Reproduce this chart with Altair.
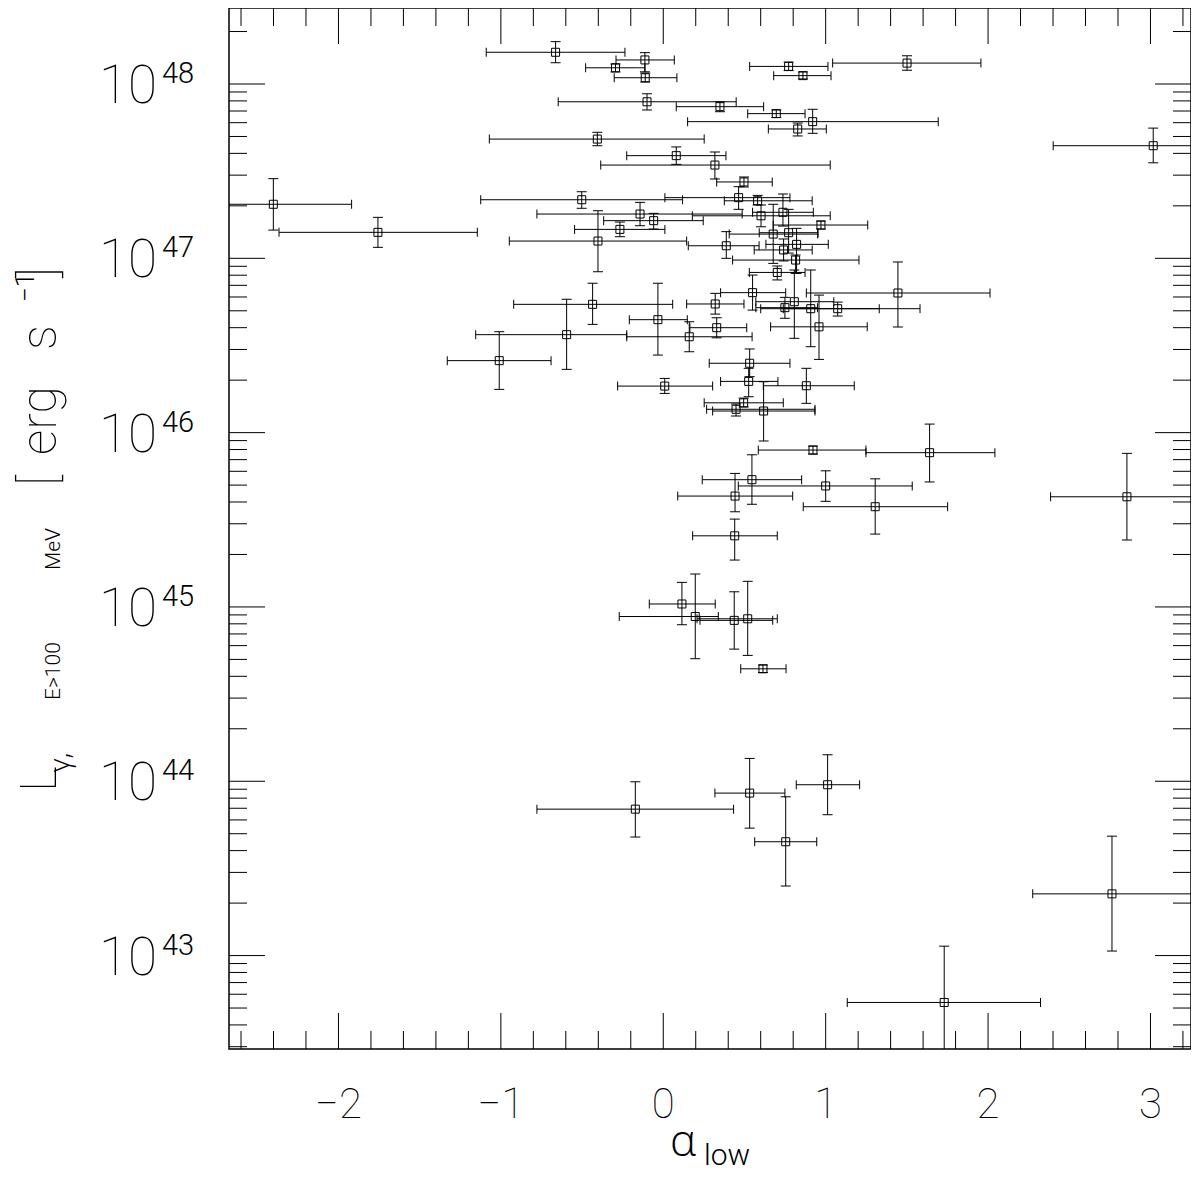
import altair as alt
import numpy as np
import pandas as pd

# ---- data (alpha_low and log10 L_gamma) ----
alpha = [-0.663, -0.294, -0.113, -0.111, 0.772, 0.860, 1.501, -0.100, 0.349, 0.696,
         0.920, 0.828, -0.406, 0.080, 0.318, 3.017, 0.497, -2.401, -1.757, -0.502,
         0.464, 0.581, 0.737, -0.143, -0.059, 0.602, 0.971, -0.267, -0.402, 0.677,
         0.772, 0.388, 0.821, 0.741, 0.815, 0.702, 0.550, 0.807, 0.749, 0.908,
         1.445, 1.074, -0.435, -0.033, 0.320, 0.959, -0.595, 0.160, 0.329, -1.010,
         0.532, 0.526, 0.009, 0.881, 0.495, 0.448, 0.618, 0.922, 1.640, 0.546,
         1.000, 0.442, 1.305, 2.855, 0.440, 0.115, 0.197, 0.437, 0.520, 0.614,
         -0.172, 0.532, 1.012, 0.754, 2.763, 1.730]
alpha_lo = [-1.090, -0.478, -0.291, -0.302, 0.532, 0.680, 1.043, -0.647, 0.080, 0.520,
            0.150, 0.647, -1.071, -0.225, -0.385, 2.401, 0.329, -3.000, -2.366, -1.124,
            0.010, 0.376, 0.550, -0.778, -0.367, 0.179, 0.677, -0.546, -0.948, 0.406,
            0.591, 0.154, 0.632, 0.560, 0.427, 0.530, 0.353, 0.570, 0.570, 0.600,
            0.881, 0.739, -0.921, -0.209, 0.144, 0.661, -1.155, -0.225, 0.164, -1.330,
            0.283, 0.353, -0.281, 0.616, 0.252, 0.267, 0.304, 0.585, 1.248, 0.240,
            0.462, 0.089, 0.862, 2.385, 0.181, -0.086, -0.271, 0.226, 0.208, 0.477,
            -0.778, 0.318, 0.819, 0.563, 2.275, 1.133]
alpha_hi = [-0.236, -0.113, 0.068, 0.084, 1.014, 1.033, 1.956, 0.449, 0.618, 0.873,
            1.693, 1.004, 0.252, 0.386, 1.028, 3.600, 0.671, -1.919, -1.145, 0.119,
            0.780, 0.917, 0.924, 0.486, 0.246, 1.028, 1.259, 0.010, 0.144, 0.951,
            0.953, 0.590, 1.016, 0.917, 1.205, 0.873, 0.754, 1.050, 0.950, 1.330,
            2.012, 1.581, 0.058, 0.148, 0.497, 1.256, -0.225, 0.547, 0.514, -0.691,
            0.780, 0.706, 0.304, 1.176, 0.739, 0.934, 0.934, 1.248, 2.042, 0.852,
            1.533, 0.797, 1.751, 3.600, 0.702, 0.320, 0.339, 0.674, 0.702, 0.756,
            0.433, 0.749, 1.209, 0.945, 3.256, 2.323]
logL = [48.182, 48.093, 48.138, 48.036, 48.101, 48.048, 48.120, 47.898, 47.870, 47.830,
        47.784, 47.742, 47.684, 47.589, 47.535, 47.646, 47.438, 47.310, 47.149, 47.336,
        47.348, 47.330, 47.264, 47.254, 47.216, 47.244, 47.191, 47.166, 47.099, 47.139,
        47.147, 47.072, 47.080, 47.048, 46.990, 46.919, 46.803, 46.751, 46.717, 46.711,
        46.801, 46.711, 46.736, 46.648, 46.738, 46.607, 46.562, 46.550, 46.602, 46.413,
        46.398, 46.294, 46.267, 46.269, 46.171, 46.134, 46.124, 45.900, 45.885, 45.730,
        45.694, 45.636, 45.575, 45.632, 45.408, 45.017, 44.945, 44.923, 44.932, 44.645,
        43.840, 43.932, 43.980, 43.653, 43.354, 42.731]
logL_lo = [48.122, 48.069, 48.070, 48.011, 48.077, 48.029, 48.079, 47.851, 47.841, 47.808,
           47.717, 47.702, 47.646, 47.539, 47.455, 47.548, 47.409, 47.162, 47.063, 47.287,
           47.281, 47.306, 47.185, 47.187, 47.168, 47.181, 47.168, 47.124, 46.923, 46.971,
           47.030, 47.000, 46.914, 46.985, 46.914, 46.876, 46.703, 46.541, 46.656, 46.493,
           46.606, 46.669, 46.621, 46.445, 46.680, 46.420, 46.363, 46.464, 46.544, 46.248,
           46.321, 46.206, 46.225, 46.168, 46.147, 46.095, 45.952, 45.877, 45.717, 45.589,
           45.606, 45.546, 45.418, 45.384, 45.269, 44.898, 44.703, 44.758, 44.722, 44.624,
           43.680, 43.731, 43.808, 43.399, 43.026, 42.171]
logL_hi = [48.243, 48.115, 48.180, 48.063, 48.126, 48.069, 48.162, 47.944, 47.898, 47.851,
           47.855, 47.776, 47.723, 47.639, 47.610, 47.747, 47.466, 47.457, 47.235, 47.382,
           47.411, 47.361, 47.369, 47.321, 47.258, 47.306, 47.214, 47.208, 47.273, 47.310,
           47.281, 47.153, 47.172, 47.111, 47.019, 46.956, 46.904, 46.933, 46.776, 46.933,
           46.979, 46.749, 46.857, 46.857, 46.799, 46.789, 46.765, 46.636, 46.659, 46.579,
           46.480, 46.369, 46.311, 46.369, 46.198, 46.164, 46.292, 45.923, 46.049, 45.873,
           45.781, 45.766, 45.735, 45.881, 45.504, 45.141, 45.189, 45.087, 45.147, 44.667,
           43.997, 44.131, 44.152, 43.911, 43.685, 43.054]

# ---- axis ticks / labels ----
x_major = [-2, -1, 0, 1, 2, 3]
x_labels = ["\u22122", "\u22121", "0", "1", "2", "3"]
x_minor = [-2.6, -2.4, -2.2, -1.8, -1.6, -1.4, -1.2, -0.8, -0.6, -0.4, -0.2,
           0.2, 0.4, 0.6, 0.8, 1.2, 1.4, 1.6, 1.8, 2.2, 2.4, 2.6, 2.8, 3.2]
y_major_exp = [43, 44, 45, 46, 47, 48]
y_exp_labels = ["43", "44", "45", "46", "47", "48"]
y_minor_mult = [2, 3, 4, 5, 6, 7, 8, 9]
y_decades = [42, 43, 44, 45, 46, 47, 48]

X_DOM = [-2.674, 3.2496]
LOG_DOM = [42.464, 48.436]
W, H = 962, 1041
FONT = "Roboto"
GREEK = "Open Sans"

xs = alt.Scale(domain=X_DOM, nice=False, zero=False)
ys = alt.Scale(type="log", domain=[10 ** LOG_DOM[0], 10 ** LOG_DOM[1]], nice=False)


def X(f):
    return alt.X(f, type="quantitative", scale=xs, axis=None)


def Y(f):
    return alt.Y(f, type="quantitative", scale=ys, axis=None)


df = pd.DataFrame({
    "a": alpha, "alo": alpha_lo, "ahi": alpha_hi,
    "L": 10 ** np.array(logL), "Llo": 10 ** np.array(logL_lo), "Lhi": 10 ** np.array(logL_hi),
})
base = alt.Chart(df)
LC = "black"

xerr = base.mark_rule(color=LC, strokeWidth=1, clip=True).encode(x=X("alo"), x2="ahi", y=Y("L"))
yerr = base.mark_rule(color=LC, strokeWidth=1, clip=True).encode(x=X("a"), y=Y("Llo"), y2="Lhi")
tick_kw = dict(thickness=1, color=LC, clip=True, opacity=1)
cap_xl = base.mark_tick(orient="vertical", size=9, **tick_kw).encode(x=X("alo"), y=Y("L"))
cap_xh = base.mark_tick(orient="vertical", size=9, **tick_kw).encode(x=X("ahi"), y=Y("L"))
cap_yl = base.mark_tick(orient="horizontal", size=10, **tick_kw).encode(x=X("a"), y=Y("Llo"))
cap_yh = base.mark_tick(orient="horizontal", size=10, **tick_kw).encode(x=X("a"), y=Y("Lhi"))
pts = base.mark_point(shape="square", filled=False, size=64, color=LC, strokeWidth=1,
                      opacity=1, clip=True).encode(x=X("a"), y=Y("L"))

# ticks (inward, on all four sides)
xmaj = pd.DataFrame({"v": x_major})
xmin = pd.DataFrame({"v": x_minor})
ymaj = pd.DataFrame({"v": [10.0 ** e for e in y_major_exp]})
yminv = [m * 10.0 ** d for d in y_decades for m in y_minor_mult
         if LOG_DOM[0] < np.log10(m * 10.0 ** d) < LOG_DOM[1]]
ymin = pd.DataFrame({"v": yminv})

tick_layers = []
for d, ln in [(xmaj, 36), (xmin, 18)]:
    tick_layers.append(alt.Chart(d).mark_rule(color=LC, strokeWidth=1).encode(
        x=X("v"), y=alt.value(H), y2=alt.value(H - ln)))
    tick_layers.append(alt.Chart(d).mark_rule(color=LC, strokeWidth=1).encode(
        x=X("v"), y=alt.value(0), y2=alt.value(ln)))
for d, ln in [(ymaj, 36), (ymin, 18)]:
    tick_layers.append(alt.Chart(d).mark_rule(color=LC, strokeWidth=1).encode(
        y=Y("v"), x=alt.value(0), x2=alt.value(ln)))
    tick_layers.append(alt.Chart(d).mark_rule(color=LC, strokeWidth=1).encode(
        y=Y("v"), x=alt.value(W - ln), x2=alt.value(W)))

# tick labels
xlab = alt.Chart(pd.DataFrame({"v": x_major, "lab": x_labels})).mark_text(
    font=FONT, fontWeight=100, fontSize=42, color=LC, align="center", baseline="alphabetic"
).encode(x=X("v"), y=alt.value(1110), text="lab:N")

ylabdf = pd.DataFrame({"v": [10.0 ** e for e in y_major_exp], "ten": ["10"] * 6, "exp": y_exp_labels})
ylab10 = alt.Chart(ylabdf).mark_text(
    font=FONT, fontWeight=100, fontSize=53, color=LC, align="right", baseline="alphabetic", dy=19
).encode(y=Y("v"), x=alt.value(-72), text="ten:N")
ylabexp = alt.Chart(ylabdf).mark_text(
    font=FONT, fontWeight=300, fontSize=29, color=LC, align="left", baseline="alphabetic", dy=-1
).encode(y=Y("v"), x=alt.value(-67), text="exp:N")

# axis titles, composed from pieces (sub/superscripts)
title_txt = ["L", "\u03b3,", "E>100", "MeV", "[", "erg", "s", "\u22121", "]", "\u03b1", "low"]
title_px = [-173, -160, -169, -169, -173, -173, -173, -195, -173, 441, 475]
title_py = [784, 764, 692, 562, 478, 447, 342, 294, 270, 1148, 1157]
title_fs = [50, 28, 21, 21, 50, 50, 50, 26, 50, 44, 30]
title_ang = [270, 270, 270, 270, 270, 270, 270, 270, 270, 0, 0]
title_sty = ["thin", "greek", "light", "light", "thin", "thin", "thin", "light", "thin", "greek", "light"]
tdf = pd.DataFrame({"t": title_txt, "px": title_px, "py": title_py, "fs": title_fs,
                    "ang": title_ang, "sty": title_sty})

title_layers = []
for sty, fnt, fw in [("thin", FONT, 100), ("light", FONT, 300), ("greek", GREEK, 300)]:
    title_layers.append(alt.Chart(tdf[tdf.sty == sty]).mark_text(
        font=fnt, fontWeight=fw, color=LC, align="left", baseline="alphabetic"
    ).encode(
        x=alt.X("px:Q", scale=None, axis=None),
        y=alt.Y("py:Q", scale=None, axis=None),
        size=alt.Size("fs:Q", scale=None, legend=None),
        angle=alt.Angle("ang:Q", scale=None, legend=None),
        text="t:N",
    ))

chart = alt.layer(
    xerr, yerr, cap_xl, cap_xh, cap_yl, cap_yh, pts,
    *tick_layers, xlab, ylab10, ylabexp, *title_layers,
).properties(
    width=W, height=H,
    autosize=alt.AutoSizeParams(type="none"),
    padding={"left": 221, "top": 0, "right": 0, "bottom": 127},
    background="white",
).configure_view(stroke="black", strokeWidth=1.5, fill="white")

chart.save("out.html", embed_options={"renderer": "svg", "actions": False})
